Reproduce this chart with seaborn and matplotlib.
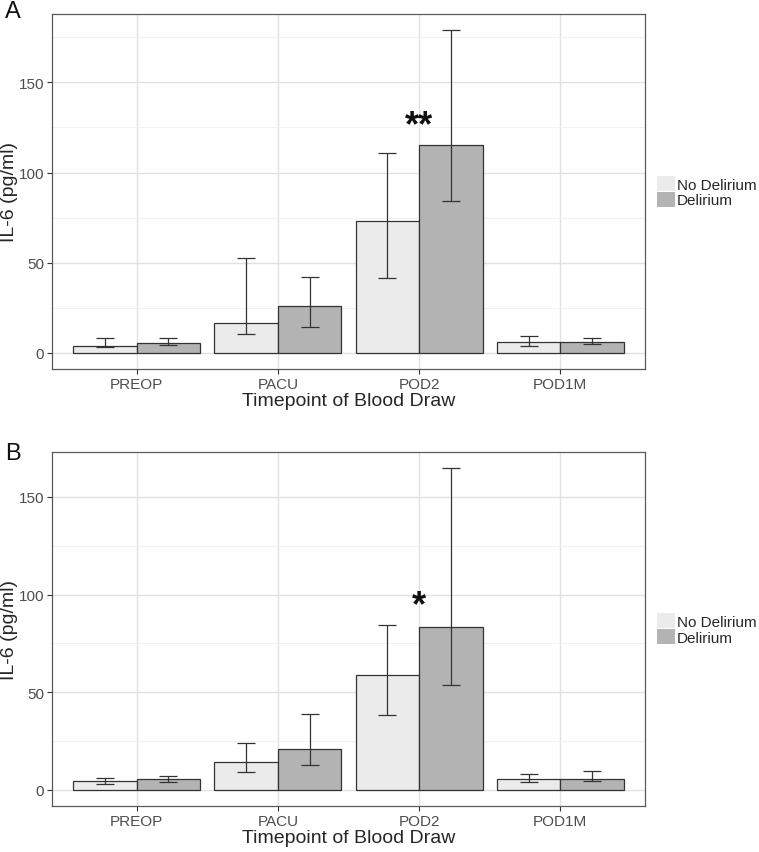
import numpy as np
import pandas as pd
import matplotlib
matplotlib.use("Agg")
import matplotlib.pyplot as plt
from matplotlib.ticker import MultipleLocator
import seaborn as sns

# data =====================================================================
timepoints = ["PREOP", "PACU", "POD2", "POD1M"]
groups = ["No Delirium", "Delirium"]

# panel A
a_no = [3.8, 16.3, 73.0, 5.9]
a_no_lo = [3.1, 10.2, 41.5, 3.7]
a_no_hi = [8.0, 52.4, 110.6, 9.6]
a_del = [5.4, 26.0, 115.4, 5.9]
a_del_lo = [4.1, 14.6, 84.2, 4.8]
a_del_hi = [8.0, 42.0, 179.0, 8.0]

# panel B
b_no = [4.4, 14.5, 59.0, 5.5]
b_no_lo = [2.9, 9.4, 38.4, 4.0]
b_no_hi = [6.3, 23.9, 84.4, 8.0]
b_del = [5.5, 20.8, 83.5, 5.5]
b_del_lo = [4.0, 13.0, 53.7, 4.4]
b_del_hi = [7.0, 38.7, 164.8, 9.6]

sig_a = ("POD2", 126.0, "**")
sig_b = ("POD2", 94.5, "*")

colors = ["#EBEBEB", "#B3B3B3"]

sns.set_style("white")
plt.rcParams['font.family'] = ['Liberation Sans', 'DejaVu Sans']

fig = plt.figure(figsize=(7.59, 8.53), dpi=100)
W, H = 759, 853
ax_a = fig.add_axes([52 / W, (H - 370) / H, 593 / W, 355 / H])
ax_b = fig.add_axes([52 / W, (H - 807) / H, 593 / W, 354 / H])


def draw_panel(ax, no, no_lo, no_hi, de, de_lo, de_hi, sig):
    df = pd.DataFrame({
        "Timepoint": timepoints * 2,
        "IL6": no + de,
        "Group": [groups[0]] * 4 + [groups[1]] * 4,
    })
    sns.barplot(data=df, x="Timepoint", y="IL6", hue="Group", order=timepoints,
                hue_order=groups, palette=colors, width=0.9, gap=0, errorbar=None,
                edgecolor="#333333", linewidth=0.9, ax=ax, zorder=2)
    # asymmetric error bars
    pos = np.arange(len(timepoints))
    for off, m, lo, hi in [(-0.225, no, no_lo, no_hi), (0.225, de, de_lo, de_hi)]:
        m = np.array(m); lo = np.array(lo); hi = np.array(hi)
        ax.errorbar(pos + off, m, yerr=[m - lo, hi - m], fmt="none",
                    ecolor="#333333", elinewidth=0.9, capsize=6.4, capthick=0.9, zorder=3)

    top = max(max(no_hi), max(de_hi))
    ax.set_ylim(-0.05 * top, top * 1.05)
    ax.set_xlim(-0.6, 3.6)
    ax.yaxis.set_major_locator(MultipleLocator(50))
    ax.yaxis.set_minor_locator(MultipleLocator(25))
    ax.set_axisbelow(True)
    ax.grid(which="major", color="#E1E1E1", lw=1.0)
    ax.grid(which="minor", axis="y", color="#F0F0F0", lw=0.6)
    ax.tick_params(axis="y", which="minor", length=0)
    ax.tick_params(which="major", length=3.5, width=0.8, color="#333333",
                   labelsize=11, labelcolor="#4D4D4D", pad=2, left=True, bottom=True)
    for s in ax.spines.values():
        s.set_color("#5A5A5A")
        s.set_linewidth(0.9)
    ax.set_xlabel("Timepoint of Blood Draw", fontsize=14, labelpad=1)
    ax.set_ylabel("IL-6 (pg/ml)", fontsize=14)
    ax.yaxis.set_label_coords(-0.058, 0.5)

    ax.text(timepoints.index(sig[0]), sig[1], sig[2], ha="center", va="center",
            fontsize=26, fontweight="bold", color="#111111")

    leg = ax.legend(loc="center left", bbox_to_anchor=(1.02, 0.5), frameon=False,
                    fontsize=11, handlelength=1.2, handleheight=1.15, handletextpad=0.1,
                    labelspacing=0.0, borderpad=0, borderaxespad=0, title=None)
    for p in leg.get_patches():
        p.set_edgecolor("none")


draw_panel(ax_a, a_no, a_no_lo, a_no_hi, a_del, a_del_lo, a_del_hi, sig_a)
draw_panel(ax_b, b_no, b_no_lo, b_no_hi, b_del, b_del_lo, b_del_hi, sig_b)

# panel letters
fig.text(5 / W, 1 - 18 / H, "A", fontsize=17, va="baseline", ha="left", color="#111111")
fig.text(5 / W, 1 - 460 / H, "B", fontsize=17, va="baseline", ha="left", color="#111111")

fig.savefig("out.png", dpi=100)
